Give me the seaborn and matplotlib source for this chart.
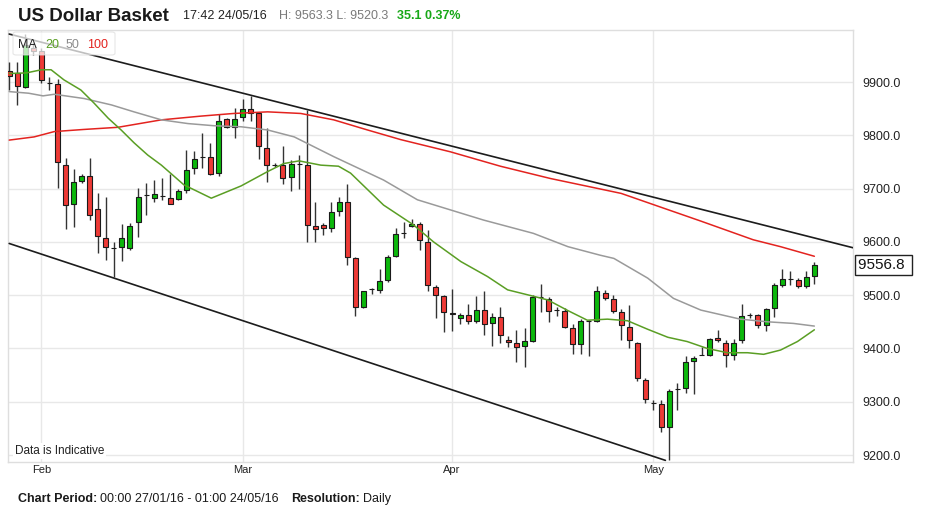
import numpy as np
import pandas as pd
import matplotlib
matplotlib.use("Agg")
import matplotlib.pyplot as plt
import seaborn as sns
from matplotlib.patches import FancyBboxPatch
from matplotlib.transforms import blended_transform_factory

# ---------------- data ----------------
start_date = "2016-01-27"
end_date = "2016-05-24"
week_mask = "Sun Mon Tue Wed Thu Fri"
closed_days = ["2016-03-25"]

opens = [9920, 9916, 9891, 9964, 9959, 9899, 9897, 9745, 9671, 9715,
         9724, 9662, 9608, 9588, 9590, 9588, 9637, 9688, 9683, 9686,
         9682, 9680, 9697, 9738, 9760, 9759, 9730, 9830, 9816, 9834,
         9849, 9841, 9777, 9744, 9744, 9721, 9746, 9744, 9630, 9632,
         9626, 9658, 9674, 9569, 9478, 9512, 9510, 9528, 9574, 9616,
         9629, 9634, 9600, 9516, 9499, 9467, 9457, 9462, 9452, 9472,
         9447, 9459, 9415, 9411, 9405, 9414, 9497, 9493, 9472, 9471,
         9438, 9408, 9452, 9452, 9504, 9493, 9469, 9441, 9411, 9341,
         9297, 9295, 9252, 9323, 9325, 9376, 9388, 9388, 9419, 9411,
         9388, 9415, 9463, 9463, 9444, 9476, 9520, 9530, 9529, 9517,
         9536]
highs = [9938, 9938, 9990, 9975, 9964, 9910, 9905, 9758, 9736, 9727,
         9758, 9692, 9685, 9599, 9634, 9636, 9701, 9710, 9717, 9720,
         9727, 9700, 9772, 9771, 9805, 9786, 9840, 9833, 9851, 9868,
         9874, 9844, 9813, 9748, 9779, 9754, 9763, 9847, 9675, 9635,
         9674, 9685, 9708, 9572, 9508, 9513, 9549, 9575, 9626, 9638,
         9642, 9638, 9622, 9519, 9500, 9511, 9467, 9483, 9498, 9508,
         9466, 9478, 9424, 9435, 9439, 9500, 9521, 9496, 9477, 9475,
         9446, 9456, 9453, 9517, 9510, 9500, 9474, 9482, 9413, 9344,
         9303, 9303, 9323, 9336, 9386, 9385, 9403, 9420, 9435, 9415,
         9417, 9484, 9467, 9465, 9476, 9522, 9550, 9546, 9532, 9545,
         9563]
lows = [9885, 9857, 9889, 9950, 9898, 9885, 9701, 9625, 9628, 9711,
        9641, 9579, 9566, 9534, 9565, 9585, 9610, 9650, 9675, 9678,
        9671, 9678, 9691, 9727, 9738, 9726, 9724, 9813, 9794, 9826,
        9826, 9756, 9713, 9740, 9709, 9696, 9699, 9599, 9599, 9613,
        9619, 9649, 9557, 9461, 9476, 9502, 9505, 9525, 9572, 9607,
        9627, 9585, 9508, 9457, 9431, 9433, 9446, 9445, 9448, 9425,
        9405, 9410, 9403, 9375, 9366, 9412, 9469, 9450, 9460, 9438,
        9390, 9390, 9385, 9450, 9491, 9466, 9416, 9400, 9338, 9298,
        9285, 9244, 9190, 9285, 9317, 9315, 9387, 9386, 9413, 9366,
        9378, 9410, 9457, 9438, 9433, 9459, 9515, 9519, 9513, 9513,
        9521]
closes = [9912, 9892, 9969, 9958, 9904, 9899, 9749, 9669, 9713, 9724,
          9650, 9611, 9591, 9588, 9607, 9630, 9684, 9688, 9689, 9686,
          9672, 9696, 9734, 9755, 9760, 9727, 9827, 9816, 9830, 9849,
          9841, 9779, 9744, 9744, 9720, 9747, 9746, 9632, 9624, 9626,
          9656, 9675, 9572, 9478, 9507, 9512, 9527, 9572, 9615, 9616,
          9634, 9604, 9519, 9500, 9469, 9464, 9462, 9451, 9472, 9446,
          9459, 9426, 9413, 9403, 9414, 9497, 9497, 9470, 9472, 9440,
          9408, 9452, 9452, 9508, 9494, 9471, 9444, 9415, 9344, 9305,
          9297, 9252, 9321, 9323, 9374, 9382, 9388, 9417, 9416, 9388,
          9411, 9460, 9463, 9444, 9474, 9519, 9530, 9530, 9517, 9534,
          9557]

ma20_pos = [0, 2.1, 4.0, 5.2, 6.8, 8.9, 10.5, 12.3, 13.9, 15.5, 17.2, 18.9,
            21.7, 25.1, 28.8, 32.1, 34.1, 36.0, 38.7, 40.9, 42.4, 46.5, 50.2,
            52.7, 56.1, 59.4, 61.9, 65.1, 66.9, 69.4, 71.8, 74.3, 76.8, 79.3,
            81.8, 84.2, 86.7, 89.2, 91.7, 93.7, 95.8, 97.9, 100]
ma20_val = [9916, 9917, 9923, 9923, 9904, 9885, 9861, 9832, 9810, 9786, 9763, 9744,
            9707, 9682, 9705, 9732, 9747, 9752, 9744, 9742, 9729, 9669, 9632,
            9600, 9563, 9535, 9510, 9498, 9491, 9471, 9453, 9455, 9452, 9436,
            9421, 9413, 9400, 9392, 9392, 9389, 9397, 9413, 9435]
ma50_pos = [0, 2.4, 4.2, 5.6, 9.3, 12.7, 15.5, 18.9, 22.2, 25.4, 28.8, 32.1,
            35.4, 40.3, 46.5, 50.7, 54.8, 58.9, 65.1, 69.4, 73.4, 75.1, 79.3,
            82.5, 85.9, 90.8, 94.2, 97.4, 100]
ma50_val = [9882, 9879, 9874, 9877, 9869, 9857, 9844, 9829, 9822, 9818, 9816, 9810,
            9797, 9760, 9716, 9679, 9660, 9641, 9616, 9591, 9575, 9569, 9532,
            9494, 9472, 9455, 9450, 9447, 9442]
ma100_pos = [0, 3.1, 5.6, 9.3, 13.5, 18.9, 23.8, 27.9, 32.1, 36.2, 40.3, 44.5,
             48.6, 54.8, 61.0, 67.2, 76.0, 85.9, 92.4, 95.8, 100]
ma100_val = [9791, 9797, 9807, 9811, 9815, 9829, 9836, 9841, 9844, 9841, 9829, 9810,
             9792, 9769, 9742, 9719, 9691, 9639, 9604, 9591, 9573]

upper_trend_pos = [0, 104.8]
upper_trend_val = [9990, 9589]
lower_trend_pos = [0, 81.5]
lower_trend_val = [9597, 9190]

y_ticks = [9200, 9300, 9400, 9500, 9600, 9700, 9800, 9900]
last_price = 9556.8

# ---------------- build ----------------
dates = pd.bdate_range(start_date, end_date, freq="C", weekmask=week_mask,
                       holidays=closed_days)
df = pd.DataFrame({"date": dates, "open": opens, "high": highs,
                   "low": lows, "close": closes})
df["pos"] = np.arange(len(df))
month_first = df.groupby(df["date"].dt.to_period("M"))["pos"].min()
month_first = month_first[month_first > 0]
month_labels = [p.strftime("%b") for p in month_first.index]

sns.set_theme(style="white")
plt.rcParams["font.family"] = ["Liberation Sans", "DejaVu Sans"]

W, H = 934, 516
fig = plt.figure(figsize=(W / 100, H / 100), dpi=100)
fig.patch.set_facecolor("white")
ax_l, ax_r, ax_t, ax_b = 8, 853, 30, 461.7
ax = fig.add_axes([ax_l / W, 1 - ax_b / H, (ax_r - ax_l) / W, (ax_b - ax_t) / H])
ax.set_facecolor("white")

GREEN = "#0cb80c"
RED = "#ee3a36"

up = df["close"] >= df["open"]
body_h = (df["close"] - df["open"]).abs()
body_b = df[["open", "close"]].min(axis=1)

ax.vlines(df["pos"], df["low"], df["high"], color="#333333", lw=1.0, zorder=3)
ax.bar(df["pos"], body_h, bottom=body_b, width=0.62,
       color=np.where(up & (body_h > 0), GREEN, RED),
       edgecolor="#1a1a1a", linewidth=0.8, zorder=4)

sns.lineplot(x=ma100_pos, y=ma100_val, ax=ax, color="#e3231f", lw=1.1, zorder=5)
sns.lineplot(x=ma50_pos, y=ma50_val, ax=ax, color="#9a9a9a", lw=1.1, zorder=5)
sns.lineplot(x=ma20_pos, y=ma20_val, ax=ax, color="#5a9e24", lw=1.1, zorder=5)
sns.lineplot(x=upper_trend_pos, y=upper_trend_val, ax=ax, color="#1c1c1c", lw=1.2, zorder=6)
sns.lineplot(x=lower_trend_pos, y=lower_trend_val, ax=ax, color="#1c1c1c", lw=1.2, zorder=6)

ax.set_xlim(-0.15, 104.8)
ax.set_ylim(9187.5, 9997.6)
ax.set_yticks(y_ticks)
ax.set_yticklabels([f"{v:.1f}" for v in y_ticks])
ax.yaxis.tick_right()
ax.set_xticks(month_first.values)
ax.set_xticklabels(month_labels)
ax.tick_params(axis="y", length=0, pad=6.5, labelsize=9, labelcolor="#222222")
ax.tick_params(axis="x", length=0, pad=2.5, labelsize=8, labelcolor="#222222")
ax.grid(True, color="#e8e8e8", lw=1.0, zorder=0)
ax.set_axisbelow(True)
for s in ax.spines.values():
    s.set_color("#dedede")
    s.set_linewidth(1.0)
ax.set_xlabel("")
ax.set_ylabel("")

# MA legend box
px_w, px_h = ax_r - ax_l, ax_b - ax_t
def axx(px):
    return (px - ax_l) / px_w
def axy(py):
    return (ax_b - py) / px_h
box = FancyBboxPatch((axx(13), axy(55)), axx(115) - axx(13), axy(32) - axy(55),
                     boxstyle="round,pad=0,rounding_size=0.004",
                     transform=ax.transAxes, facecolor="white", alpha=0.72,
                     edgecolor="#dcdcdc", lw=0.8, zorder=10)
ax.add_patch(box)
for txt, xpx, col in [("MA", 18, "#222222"), ("20", 45, "#5a9e24"),
                      ("50", 66, "#8c8c8c"), ("100", 87, "#e3231f")]:
    ax.text(axx(xpx), axy(47.5), txt, transform=ax.transAxes, fontsize=9,
            color=col, va="baseline", ha="left", zorder=11)

ax.text(axx(15), axy(454), "Data is Indicative", transform=ax.transAxes,
        fontsize=8.5, color="#222222", va="baseline", ha="left", zorder=11,
        bbox=dict(boxstyle="square,pad=0.15", fc="white", ec="none"))

# last price box
tr = blended_transform_factory(ax.transAxes, ax.transData)
ax.text(1.006, last_price, f"{last_price:.1f} ", transform=tr, fontsize=11,
        color="#111111", va="center", ha="left", clip_on=False, zorder=12,
        bbox=dict(boxstyle="square,pad=0.2", fc="white", ec="#222222", lw=1.0))

# header
def ftext(xpx, ypx, s, **kw):
    return fig.text(xpx / W, 1 - ypx / H, s, va="baseline", ha="left", **kw)
ftext(18, 20.7, "US Dollar Basket", fontsize=13.5, fontweight="bold", color="#1a1a1a")
ftext(183, 19.3, "17:42 24/05/16", fontsize=9, color="#222222")
ftext(279, 19.3, "H: 9563.3 L: 9520.3", fontsize=9, color="#7a7a7a")
ftext(397, 19.3, "35.1 0.37%", fontsize=9, fontweight="bold", color="#17a817")

# footer (chained pieces)
renderer = fig.canvas.get_renderer()
x_cur = 18
for s, wt, gap in [("Chart Period:", "bold", 3), ("00:00 27/01/16 - 01:00 24/05/16", "normal", 12),
                   ("Resolution:", "bold", 3), ("Daily", "normal", 0)]:
    t = ftext(x_cur, 502, s, fontsize=9, fontweight=wt, color="#1a1a1a")
    bb = t.get_window_extent(renderer=renderer)
    x_cur += bb.width + gap

fig.savefig("out.png", dpi=100, facecolor="white")
